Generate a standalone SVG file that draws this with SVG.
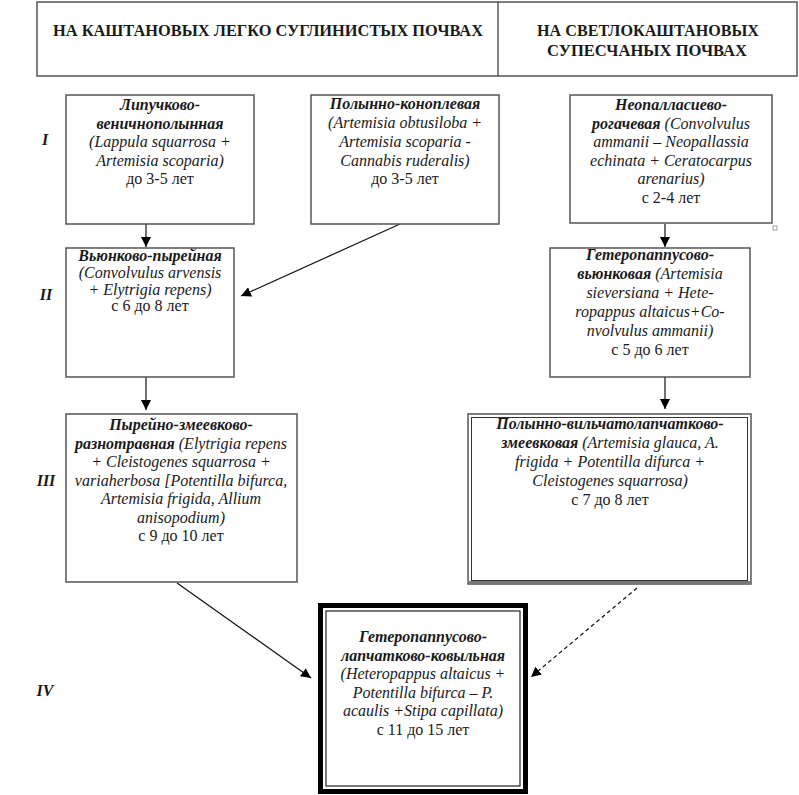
<svg xmlns="http://www.w3.org/2000/svg" width="799" height="795" viewBox="0 0 799 795">
<style>
text{font-family:'Liberation Serif','DejaVu Serif',serif;font-size:16px;fill:#1a1a1a;text-anchor:middle}
.bi{font-weight:bold;font-style:italic}
.i{font-style:italic}
.h{font-weight:bold;font-size:16.5px}
.lab{font-weight:bold;font-style:italic;font-size:16px}
.box{fill:#fff;stroke:#555;stroke-width:1.5}
.ln{stroke:#111;stroke-width:1.2;fill:none}
</style>
<defs>
<marker id="ah" viewBox="0 0 10 10" refX="10" refY="5" markerWidth="10" markerHeight="10" markerUnits="userSpaceOnUse" orient="auto">
<path d="M0,0 L10,5 L0,10 z" fill="#000"/>
</marker>
</defs>
<rect width="799" height="795" fill="#fff"/>

<g id="header">
<rect x="37" y="2" width="760" height="74" class="box"/>
<line x1="498" y1="2" x2="498" y2="76" stroke="#333" stroke-width="1.2"/>
<text class="h" x="268" y="36" textLength="430" lengthAdjust="spacingAndGlyphs">НА КАШТАНОВЫХ ЛЕГКО СУГЛИНИСТЫХ ПОЧВАХ</text>
<text class="h" x="648" y="36" textLength="222" lengthAdjust="spacingAndGlyphs">НА СВЕТЛОКАШТАНОВЫХ</text>
<text class="h" x="647" y="56" textLength="200" lengthAdjust="spacingAndGlyphs">СУПЕСЧАНЫХ ПОЧВАХ</text>
</g>

<g id="stage-labels">
<text class="lab" x="45" y="145">I</text>
<text class="lab" x="46" y="300">II</text>
<text class="lab" x="46" y="486">III</text>
<text class="lab" x="45" y="696">IV</text>
</g>

<g id="connectors">
<line class="ln" x1="146" y1="224" x2="146" y2="247" marker-end="url(#ah)"/>
<line class="ln" x1="400" y1="224" x2="241" y2="296" marker-end="url(#ah)"/>
<line class="ln" x1="665" y1="224" x2="665" y2="247" marker-end="url(#ah)"/>
<line class="ln" x1="146" y1="377" x2="146" y2="410" marker-end="url(#ah)"/>
<line class="ln" x1="665" y1="377" x2="665" y2="409" marker-end="url(#ah)"/>
<line class="ln" x1="177" y1="583" x2="311" y2="678" marker-end="url(#ah)"/>
<line class="ln" x1="637" y1="588" x2="531" y2="677" stroke-dasharray="4,3" marker-end="url(#ah)"/>
</g>

<g id="node-I-1">
<rect x="66" y="95" width="188" height="129" class="box"/>
<text x="160" y="110" class="bi">Липучково-</text>
<text x="160" y="128.5" class="bi">веничнополынная</text>
<text x="160" y="147" class="i">(Lappula squarrosa +</text>
<text x="160" y="165.5" class="i">Artemisia scoparia)</text>
<text x="160" y="184">до 3-5 лет</text>
</g>

<g id="node-I-2">
<rect x="311" y="95" width="188" height="129" class="box"/>
<text x="405" y="109" class="bi">Полынно-коноплевая</text>
<text x="405" y="128" class="i">(Artemisia obtusiloba +</text>
<text x="405" y="147" class="i">Artemisia scoparia -</text>
<text x="405" y="165.5" class="i">Cannabis ruderalis)</text>
<text x="405" y="184">до 3-5 лет</text>
</g>

<g id="node-I-3">
<rect x="570" y="95" width="202" height="128" class="box"/>
<rect x="773" y="226" width="4" height="4" fill="none" stroke="#888" stroke-width="0.8"/>
<text x="671" y="110" class="bi">Неопалласиево-</text>
<text x="671" y="128.5"><tspan class="bi">рогачевая</tspan><tspan class="i"> (Convolvulus</tspan></text>
<text x="671" y="147" class="i">ammanii – Neopallassia</text>
<text x="671" y="165.5" class="i">echinata + Ceratocarpus</text>
<text x="671" y="184" class="i">arenarius)</text>
<text x="671" y="202.5">с 2-4 лет</text>
</g>

<g id="node-II-1">
<rect x="66" y="248" width="168" height="129" class="box"/>
<text x="150" y="261" class="bi">Вьюнково-пырейная</text>
<text x="150" y="278" class="i">(Convolvulus arvensis</text>
<text x="150" y="294.5" class="i">+ Elytrigia repens)</text>
<text x="150" y="311">с 6 до 8 лет</text>
</g>

<g id="node-II-2">
<rect x="550" y="248" width="200" height="129" class="box"/>
<text x="650" y="260" class="bi">Гетеропаппусово-</text>
<text x="650" y="279"><tspan class="bi">вьюнковая</tspan><tspan class="i"> (Artemisia</tspan></text>
<text x="650" y="298" class="i">sieversiana + Hete-</text>
<text x="650" y="317" class="i">ropappus altaicus+Co-</text>
<text x="650" y="336" class="i">nvolvulus ammanii)</text>
<text x="650" y="355">с 5 до 6 лет</text>
</g>

<g id="node-III-1">
<rect x="66" y="414" width="231" height="168" class="box"/>
<text x="181" y="430" class="bi">Пырейно-змеевково-</text>
<text x="181" y="448.5"><tspan class="bi">разнотравная</tspan><tspan class="i"> (Elytrigia repens</tspan></text>
<text x="181" y="467" class="i">+ Cleistogenes squarrosa +</text>
<text x="181" y="485.5" class="i">variaherbosa [Potentilla bifurca,</text>
<text x="181" y="504" class="i">Artemisia frigida, Allium</text>
<text x="181" y="522.5" class="i">anisopodium)</text>
<text x="181" y="541">с 9 до 10 лет</text>
</g>

<g id="node-III-2">
<rect x="468" y="414" width="283" height="170" class="box"/>
<rect x="471.5" y="417.5" width="276" height="163" fill="none" stroke="#333" stroke-width="1"/>
<line x1="469" y1="582.5" x2="750" y2="582.5" stroke="#777" stroke-width="3"/>
<text x="610" y="429" class="bi">Полынно-вильчатолапчатково-</text>
<text x="610" y="448"><tspan class="bi">змеевковая</tspan><tspan class="i"> (Artemisia glauca, A.</tspan></text>
<text x="610" y="467" class="i">frigida + Potentilla difurca +</text>
<text x="610" y="486" class="i">Cleistogenes squarrosa)</text>
<text x="610" y="505">с 7 до 8 лет</text>
</g>

<g id="node-IV">
<rect x="320.5" y="605.5" width="205" height="186" fill="#fff" stroke="#000" stroke-width="5"/>
<rect x="326" y="611" width="194" height="175" fill="none" stroke="#222" stroke-width="1.2"/>
<text x="423" y="642" class="bi">Гетеропаппусово-</text>
<text x="423" y="660.5" class="bi">лапчатково-ковыльная</text>
<text x="423" y="679" class="i">(Heteropappus altaicus +</text>
<text x="423" y="697.5" class="i">Potentilla bifurca – P.</text>
<text x="423" y="716" class="i">acaulis +Stipa capillata)</text>
<text x="423" y="735">с 11 до 15 лет</text>
</g>
</svg>
